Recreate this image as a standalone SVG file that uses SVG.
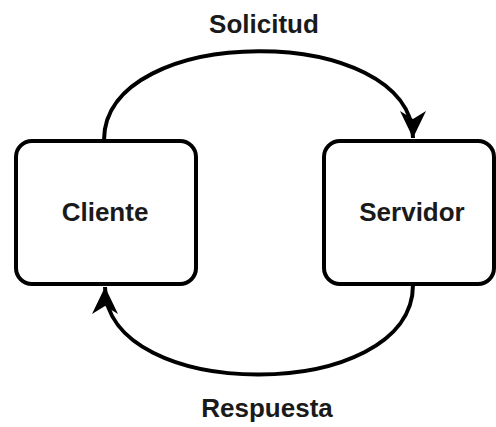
<svg xmlns="http://www.w3.org/2000/svg" width="496" height="427" viewBox="0 0 496 427">
  <style>
    .node rect { fill: #ffffff; stroke: #000000; stroke-width: 4; }
    .lbl { font-family: "Liberation Sans", Arial, sans-serif; font-weight: bold; font-size: 26px; fill: #1a1a1a; text-anchor: middle; }
    .edge { fill: none; stroke: #000000; stroke-width: 4; }
  </style>
  <defs>
    <marker id="arrow" markerUnits="userSpaceOnUse" viewBox="0 0 28 30" markerWidth="28" markerHeight="30" refX="27" refY="15" orient="auto">
      <path d="M0,2 L27,15 L0,28 L8,15 Z" fill="#000000"/>
    </marker>
  </defs>
  <rect width="496" height="427" fill="#ffffff"/>
  <g id="connectors">
    <path class="edge" d="M104,140 C104,22 413,22 413,138" marker-end="url(#arrow)"/>
    <path class="edge" d="M413,285 C413,404 105,404 105,287" marker-end="url(#arrow)"/>
  </g>
  <g id="node-cliente" class="node">
    <rect x="16" y="141" width="180" height="143" rx="16" ry="16"/>
    <text class="lbl" x="105" y="221" font-size="27">Cliente</text>
  </g>
  <g id="node-servidor" class="node">
    <rect x="324" y="141" width="170" height="143" rx="16" ry="16"/>
    <text class="lbl" x="412" y="221" font-size="27">Servidor</text>
  </g>
  <g id="label-solicitud">
    <text class="lbl" x="264" y="33">Solicitud</text>
  </g>
  <g id="label-respuesta">
    <text class="lbl" x="267" y="417">Respuesta</text>
  </g>
</svg>
